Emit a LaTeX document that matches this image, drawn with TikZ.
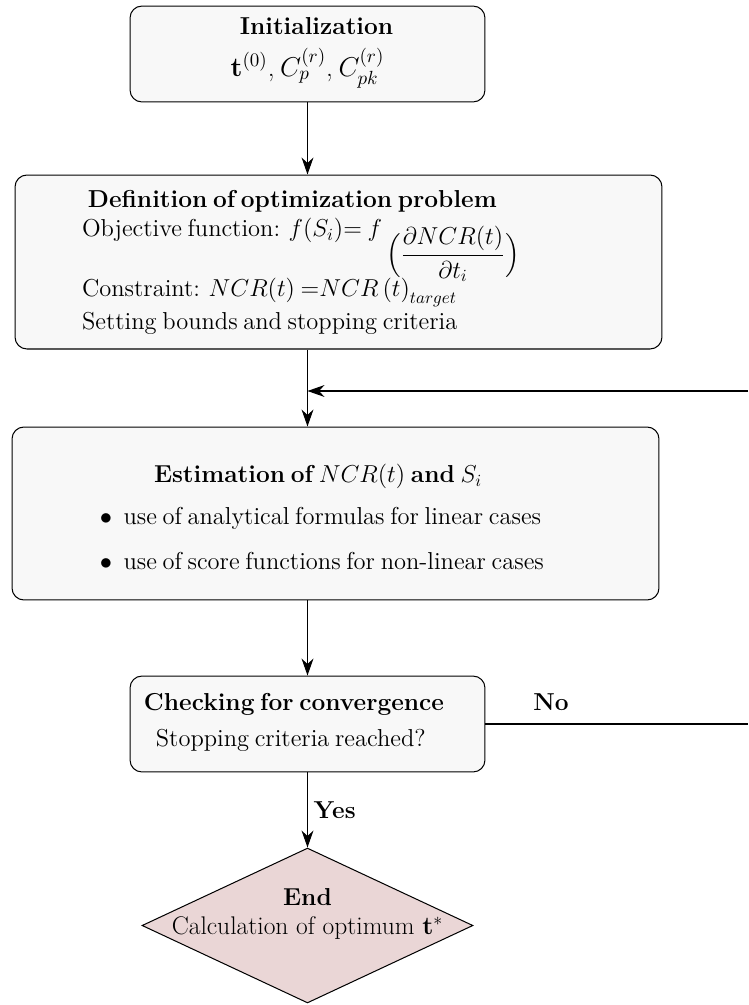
\RequirePackage{fix-cm}
\documentclass[tikz,border=0pt]{standalone}
\usepackage{amsfonts,amssymb,amsmath}
\usepackage{xcolor}
\usepackage{tikz}
\usetikzlibrary{arrows.meta,shapes,positioning}
\definecolor{boxgray}{RGB}{248,248,248}
\definecolor{endpink}{RGB}{234,214,214}

\begin{document}
\begin{tikzpicture}[x=0.588pt,y=-0.588pt,>={Stealth[length=10pt,width=7pt]},
procbox/.style={draw,rounded corners=7pt,fill=boxgray,semithick},
enddia/.style={draw,diamond,fill=endpink,semithick,inner sep=0pt,minimum width=194.6pt,minimum height=91.1pt},
flow/.style={->,semithick}]
\useasboundingbox (0,0) rectangle (748,1005);
% boxes
\node[procbox,minimum width=208.7pt,minimum height=56.4pt,text width=190pt,align=center](init) at (307.5,54)
{\hspace*{10.6pt}{\Large\textbf{Initialization}}\\[6.8pt]
{\fontsize{16}{19}\selectfont$\mathbf{t}^{(0)}$, $C_p^{(r)}$, $C_{pk}^{(r)}$}\\[-4.2pt]\mbox{}};
\node[procbox,minimum height=102.3pt,inner xsep=39.4pt,text width=301.6pt,align=left](def) at (338.5,262)
{\hspace*{3.5pt}{\Large\textbf{Definition of optimization problem}}\\[2.8pt]
{\Large Objective function: $f(S_i)$= $f$\,\raisebox{-14.5pt}{$\Big(\dfrac{\partial NCR(t)}{\partial t_i}\Big)$}}\\[-3pt]
{\Large Constraint: $NCR(t)$ =$NCR\left(t\right)_{target}$}\\[1.8pt]
{\Large Setting bounds and stopping criteria}};
\node[procbox,minimum height=101.7pt,inner xsep=51.7pt,text width=277pt,align=left](est) at (335.5,513.5)
{\mbox{}\\[3pt]
\hspace*{31.8pt}{\Large\textbf{Estimation of $NCR(t)$ and $S_i$}}\\[10pt]
{\Large$\bullet$\ \ use of analytical formulas for linear cases}\\[12.3pt]
{\Large$\bullet$\ \ use of score functions for non-linear cases}};
\node[procbox,minimum height=56.4pt,inner xsep=8.2pt,text width=192.3pt,align=left](check) at (307.5,724)
{{\Large\textbf{Checking for convergence}}\\[7pt]
\hspace*{7pt}{\Large Stopping criteria reached?}\\[-7.3pt]\mbox{}};
\node[enddia,label={[align=center,yshift=6.8pt]center:{{\Large\textbf{End}}\\[5pt]
{\fontsize{15}{18}\selectfont Calculation of optimum $\mathbf{t}^*$}}}](end) at (307.5,925.5){};
% loop points
\coordinate (rtop) at (748,391);
\coordinate (rbot) at (748,724);
\coordinate (loopin) at (init |- rtop);
% connectors
\draw[flow](init)--(def.north -| init);
\draw[flow](init |- def.south)--(init |- est.north);
\draw[flow](rtop)--(loopin);
\draw[flow](init |- est.south)--(check);
\draw[flow](check)--(end) node[midway,right]{\Large\textbf{Yes}};
\draw[semithick](check.east)--(rbot) node[pos=0.25,above,yshift=4pt]{\Large\textbf{No}};
\end{tikzpicture}
\end{document}
